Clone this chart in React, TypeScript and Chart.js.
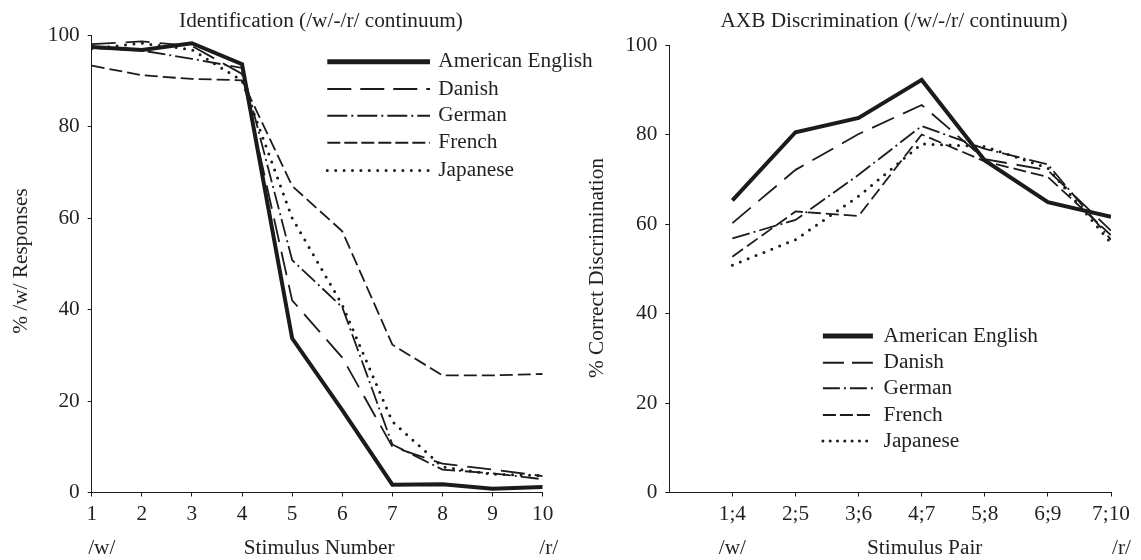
import React, { useEffect, useRef } from 'react';
import { Chart, registerables } from 'chart.js';

Chart.register(...registerables);

// ---------------- data ----------------
const SERIES_NAMES = ['American English', 'Danish', 'German', 'French', 'Japanese'];

const ID_STIMULI = [1, 2, 3, 4, 5, 6, 7, 8, 9, 10];
const ID_AMERICAN = [97.4, 96.7, 98.2, 93.6, 33.7, 18, 1.7, 1.8, 0.8, 1.2];
const ID_DANISH = [98, 98.6, 97.6, 91.5, 42, 29.5, 10, 6.3, 5, 3.6];
const ID_GERMAN = [97.2, 96.6, 94.8, 92.8, 50.8, 40.5, 10.5, 5, 4.2, 2.9];
const ID_FRENCH = [93.3, 91.2, 90.4, 90.1, 67, 57.1, 32.3, 25.6, 25.6, 25.9];
const ID_JAPANESE = [97, 98.2, 96.8, 90, 60, 41, 15.5, 5.6, 4, 3.7];

const AXB_INDEX = [1, 2, 3, 4, 5, 6, 7];
const AXB_PAIRS = ['1;4', '2;5', '3;6', '4;7', '5;8', '6;9', '7;10'];
const AXB_AMERICAN = [65.3, 80.5, 83.7, 92.2, 74.2, 64.9, 61.6];
const AXB_DANISH = [60.2, 72.1, 80.1, 86.6, 74.5, 72, 58.5];
const AXB_GERMAN = [56.8, 60.9, 71, 81.9, 76.8, 73.3, 56.5];
const AXB_FRENCH = [52.7, 62.8, 61.8, 80, 74, 70.5, 57.5];
const AXB_JAPANESE = [50.8, 56.5, 66.2, 77.9, 77.3, 72.5, 55.7];

const Y_TICKS = [0, 20, 40, 60, 80, 100];

// ---------------- styles ----------------
const INK = '#1b1b1b';
const TEXT = '#231f20';
const FAMILY = '"Liberation Serif", "Times New Roman", Times, serif';
const FONT_SIZE = 21.3;

type LineStyle = { width: number; dash: number[]; cap: CanvasLineCap; legendWidth: number };
const LINE_STYLES: LineStyle[] = [
  { width: 4, dash: [], cap: 'butt', legendWidth: 5 },
  { width: 1.8, dash: [24, 10], cap: 'butt', legendWidth: 2 },
  { width: 1.8, dash: [18, 4, 2, 4], cap: 'butt', legendWidth: 2 },
  { width: 1.8, dash: [13, 5], cap: 'butt', legendWidth: 2 },
  { width: 3, dash: [0, 8.5], cap: 'round', legendWidth: 3 },
];

function makeDatasets(xs: number[], series: number[][]) {
  return series.map((vals, i) => ({
    label: SERIES_NAMES[i],
    data: vals.map((v, j) => ({ x: xs[j], y: v })),
    borderColor: INK,
    borderWidth: LINE_STYLES[i].width,
    borderDash: LINE_STYLES[i].dash,
    borderCapStyle: LINE_STYLES[i].cap,
    borderJoinStyle: 'miter' as CanvasLineJoin,
    pointRadius: 0,
    tension: 0,
    fill: false,
  }));
}

const decorPlugin = {
  id: 'decor',
  afterDraw(chart: any, _args: any, opts: any) {
    const ctx: CanvasRenderingContext2D = chart.ctx;
    const xs = chart.scales.x;
    ctx.save();
    ctx.fillStyle = TEXT;
    ctx.font = `${FONT_SIZE}px ${FAMILY}`;
    ctx.textBaseline = 'middle';
    // title
    ctx.textAlign = 'center';
    ctx.fillText(opts.title, opts.titleX, opts.titleY);
    // y title
    ctx.save();
    ctx.translate(opts.yTitleX, opts.yTitleY);
    ctx.rotate(-Math.PI / 2);
    ctx.fillText(opts.yTitle, 0, 0);
    ctx.restore();
    // bottom labels
    for (const b of opts.bottom(xs)) {
      ctx.textAlign = b.align;
      ctx.fillText(b.text, b.x, opts.bottomY);
    }
    // legend
    const lg = opts.legend;
    SERIES_NAMES.forEach((name, i) => {
      const st = LINE_STYLES[i];
      const y = lg.ys[i];
      ctx.save();
      ctx.strokeStyle = INK;
      ctx.lineWidth = st.legendWidth;
      ctx.lineCap = st.cap;
      ctx.setLineDash(lg.dashes[i]);
      ctx.beginPath();
      ctx.moveTo(lg.x0, y);
      ctx.lineTo(lg.x1, y);
      ctx.stroke();
      ctx.restore();
      ctx.textAlign = 'left';
      ctx.fillText(name, lg.textX, y);
    });
    ctx.restore();
  },
};

function axisCommon() {
  return {
    grid: {
      drawOnChartArea: false,
      drawTicks: true,
      tickLength: 4,
      tickWidth: 1,
      tickColor: INK,
      color: INK,
    },
    border: { display: true, color: INK, width: 1 },
  };
}

const LEFT_W = 610;
const RIGHT_X = 570;
const RIGHT_W = 571;

function buildConfig(kind: 'id' | 'axb'): any {
  const isId = kind === 'id';
  const W = isId ? LEFT_W : RIGHT_W;
  const H = 560;
  const left = isId ? 91.7 : 99.3;
  const right = isId ? 542.7 : 541;
  const top = isId ? 35 : 45;
  const bottom = 492.5;
  const datasets = isId
    ? makeDatasets(ID_STIMULI, [ID_AMERICAN, ID_DANISH, ID_GERMAN, ID_FRENCH, ID_JAPANESE])
    : makeDatasets(AXB_INDEX, [AXB_AMERICAN, AXB_DANISH, AXB_GERMAN, AXB_FRENCH, AXB_JAPANESE]);

  const base = axisCommon();
  return {
    type: 'line',
    data: { datasets },
    plugins: [decorPlugin],
    options: {
      animation: false,
      responsive: false,
      maintainAspectRatio: false,
      devicePixelRatio: 1,
      layout: { padding: { left: 0, top, right: W - right, bottom: 0 } },
      plugins: {
        legend: { display: false },
        tooltip: { enabled: false },
        title: { display: false },
        decor: isId
          ? {
              title: 'Identification (/w/-/r/ continuum)',
              titleX: 321,
              titleY: 21,
              yTitle: '% /w/ Responses',
              yTitleX: 21,
              yTitleY: 261,
              bottomY: 548,
              bottom: (xs: any) => [
                { text: '/w/', x: xs.left - 3.5, align: 'left' },
                { text: 'Stimulus Number', x: (xs.left + xs.right) / 2 + 2, align: 'center' },
                { text: '/r/', x: xs.right + 15.5, align: 'right' },
              ],
              legend: {
                x0: 327.3,
                x1: 430,
                textX: 438.3,
                ys: [61.7, 89, 115.7, 142.7, 170.5],
                dashes: [[], [24, 9], [20, 4, 2, 4], [13, 4], [0, 8.4]],
              },
            }
          : {
              title: 'AXB Discrimination (/w/-/r/ continuum)',
              titleX: 324,
              titleY: 21,
              yTitle: '% Correct Discrimination',
              yTitleX: 27,
              yTitleY: 268,
              bottomY: 548,
              bottom: (xs: any) => [
                { text: '/w/', x: xs.getPixelForValue(1), align: 'center' },
                { text: 'Stimulus Pair', x: xs.getPixelForValue(4) + 3, align: 'center' },
                { text: '/r/', x: xs.right + 1, align: 'left' },
              ],
              legend: {
                x0: 252.9,
                x1: 302.9,
                textX: 313.6,
                ys: [336, 362.7, 388.3, 415, 441],
                dashes: [[], [21, 8], [17, 4, 2, 4], [13, 4], [0, 7.3]],
              },
            },
      },
      scales: {
        x: {
          type: 'linear',
          min: isId ? 1 : 0,
          max: isId ? 10 : 7,
          afterBuildTicks: (s: any) => {
            s.ticks = isId
              ? ID_STIMULI.map((v) => ({ value: v }))
              : [0, ...AXB_INDEX].map((v) => ({ value: v }));
          },
          afterFit: (s: any) => {
            s.height = H - bottom;
          },
          ticks: {
            autoSkip: false,
            maxRotation: 0,
            padding: 5,
            color: TEXT,
            font: { family: FAMILY, size: FONT_SIZE },
            callback: (v: number) => (isId ? String(v) : v >= 1 ? AXB_PAIRS[v - 1] : ''),
          },
          ...base,
          grid: {
            ...base.grid,
            tickColor: (c: any) =>
              !isId && c.tick && c.tick.value === 0 ? 'rgba(0,0,0,0)' : INK,
          },
        },
        y: {
          type: 'linear',
          min: 0,
          max: 100,
          afterBuildTicks: (s: any) => {
            s.ticks = Y_TICKS.map((v) => ({ value: v }));
          },
          afterFit: (s: any) => {
            s.width = left;
          },
          ticks: {
            padding: 8,
            color: TEXT,
            font: { family: FAMILY, size: FONT_SIZE },
          },
          ...base,
        },
      },
    },
  };
}

function PanelChart({ kind, x, w }: { kind: 'id' | 'axb'; x: number; w: number }) {
  const ref = useRef<HTMLCanvasElement>(null);
  useEffect(() => {
    const chart = new Chart(ref.current as HTMLCanvasElement, buildConfig(kind));
    return () => chart.destroy();
  }, [kind]);
  return (
    <canvas
      ref={ref}
      width={w}
      height={560}
      style={{ position: 'absolute', left: x, top: 0, width: w, height: 560, display: 'block' }}
    />
  );
}

export default function App() {
  return (
    <div
      style={{
        position: 'absolute',
        left: 0,
        top: 0,
        width: 1141,
        height: 560,
        background: '#ffffff',
        overflow: 'hidden',
      }}
    >
      <PanelChart kind="id" x={0} w={LEFT_W} />
      <PanelChart kind="axb" x={RIGHT_X} w={RIGHT_W} />
    </div>
  );
}
